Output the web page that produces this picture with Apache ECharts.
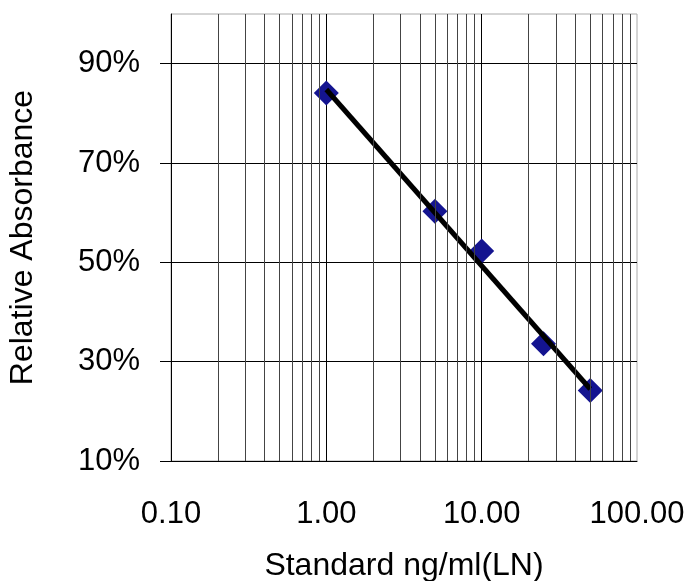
<!DOCTYPE html>
<html>
<head>
<meta charset="utf-8">
<script src="https://cdn.jsdelivr.net/npm/echarts@6/dist/echarts.min.js"></script>
<style>
html,body{margin:0;padding:0;background:#fff;}
#chart{width:689px;height:581px;}
</style>
</head>
<body>
<div id="chart"></div>
<script>
// Standard concentrations (ng/ml) and relative absorbance (%)
const standardConc = [1, 5, 10, 25, 50];
const relAbsorbance = [84.1, 60.3, 52.3, 33.6, 24.2];
// Trendline end points
const trendConc = [1, 50];
const trendAbs = [84.8, 24.5];
// Axis ticks
const yTicks = [10, 30, 50, 70, 90];
const xMinorGrid = [0.2,0.3,0.4,0.5,0.6,0.7,0.8,0.9,2,3,4,5,6,7,8,9,20,30,40,50,60,70,80,90];

const FONT = '"Liberation Sans", Arial, sans-serif';
const chart = echarts.init(document.getElementById('chart'), null, {renderer: 'canvas'});
chart.setOption({
  animation: false,
  backgroundColor: '#fff',
  grid: {left: 171, right: 52, top: 14, bottom: 120, show: true, borderColor: '#aaaaaa', borderWidth: 1,
    backgroundColor: 'transparent', containLabel: false, outerBoundsMode: 'none'},
  xAxis: {
    type: 'log', logBase: 10, min: 0.1, max: 100,
    name: 'Standard ng/ml(LN)', nameLocation: 'middle', nameGap: 89,
    nameTextStyle: {fontFamily: FONT, fontSize: 32, color: '#000'},
    axisLine: {show: true, onZero: false, lineStyle: {color: '#000', width: 1}},
    axisTick: {show: false},
    axisLabel: {fontFamily: FONT, fontSize: 31, color: '#000', margin: 38,
      formatter: v => Number(v).toFixed(2)},
    splitLine: {show: true, showMaxLine: false, lineStyle: {color: '#000', width: 1}},
    minorSplitLine: {show: false}
  },
  yAxis: {
    type: 'value', min: 10, max: 100, interval: 20,
    name: 'Relative Absorbance', nameLocation: 'middle', nameGap: 132,
    nameTextStyle: {fontFamily: FONT, fontSize: 32, color: '#000'},
    axisLine: {show: true, lineStyle: {color: '#000', width: 1}},
    axisTick: {show: true, length: 11, lineStyle: {color: '#000', width: 1}, customValues: yTicks},
    axisLabel: {fontFamily: FONT, fontSize: 31, color: '#000', margin: 31,
      customValues: yTicks, formatter: v => v + '%'},
    splitLine: {show: true, lineStyle: {color: '#000', width: 1}}
  },
  series: [
    {
      type: 'line', data: [], z: 1, silent: true,
      markLine: {
        silent: true, symbol: ['none', 'none'], animation: false,
        label: {show: false},
        lineStyle: {color: '#444', width: 1, type: 'solid'},
        emphasis: {disabled: true},
        data: xMinorGrid.map(v => ({xAxis: v}))
      }
    },
    {
      type: 'scatter', z: 3, symbol: 'diamond', symbolSize: 25,
      itemStyle: {color: '#141490', opacity: 1},
      data: standardConc.map((c, i) => [c, relAbsorbance[i]])
    },
    {
      type: 'line', z: 4, symbol: 'none', smooth: false,
      lineStyle: {color: '#000', width: 5},
      data: trendConc.map((c, i) => [c, trendAbs[i]])
    }
  ]
});
</script>
</body>
</html>
